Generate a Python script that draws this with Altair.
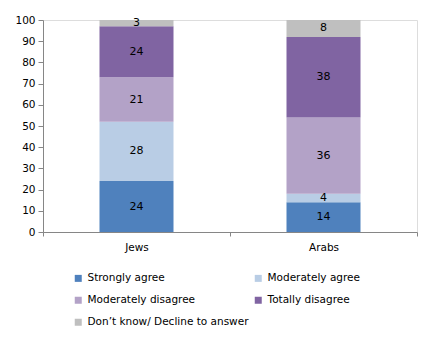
import altair as alt
import pandas as pd

groups = ["Jews", "Arabs"]
answers = ["Strongly agree", "Moderately agree", "Moderately disagree",
           "Totally disagree", "Don\u2019t know/ Decline to answer"]
jews = [24, 28, 21, 24, 3]
arabs = [14, 4, 36, 38, 8]
colors = ["#4F81BD", "#B9CDE5", "#B3A2C7", "#8064A2", "#BFBFBF"]
yticks = [0, 10, 20, 30, 40, 50, 60, 70, 80, 90, 100]

rows = []
for g, vals in zip(groups, [jews, arabs]):
    for i, (a, v) in enumerate(zip(answers, vals)):
        rows.append({"group": g, "answer": a, "value": v, "idx": i})
df = pd.DataFrame(rows)

FONT = "DejaVu Sans"

base = alt.Chart(df).transform_stack(
    stack="value", groupby=["group"], as_=["v0", "v1"],
    sort=[alt.SortField("idx", order="ascending")]
).transform_calculate(mid="(datum.v0 + datum.v1) / 2")

xaxis = alt.Axis(labelAngle=0, tickBand="extent", domainColor="#868686",
                 tickColor="#868686", tickSize=4, labelPadding=6,
                 labelFont=FONT, labelFontSize=10.5, labelColor="#000000")
yaxis = alt.Axis(values=yticks, grid=False, labelOverlap=False,
                 domainColor="#868686", tickColor="#868686", tickSize=5,
                 labelFont=FONT, labelFontSize=10.5, labelColor="#000000",
                 labelPadding=3)
xscale = alt.Scale(paddingInner=0, paddingOuter=0)
yscale = alt.Scale(domain=[0, 100], nice=False)

bars = base.mark_bar(size=74).encode(
    x=alt.X("group:N", sort=groups, title=None, scale=xscale, axis=xaxis),
    y=alt.Y("v0:Q", title=None, scale=yscale, axis=yaxis),
    y2="v1:Q",
    color=alt.Color("answer:N", sort=answers,
                    scale=alt.Scale(domain=answers, range=colors),
                    legend=alt.Legend(title=None, orient="none", legendX=30, legendY=253,
                                      columns=2, direction="horizontal",
                                      columnPadding=4, rowPadding=11,
                                      symbolType="square", symbolSize=49,
                                      symbolStrokeWidth=0, labelOffset=4,
                                      labelFont=FONT, labelFontSize=10.5,
                                      labelColor="#000000", labelLimit=300)),
    order=alt.Order("idx:Q"),
)

labels = base.mark_text(font=FONT, fontSize=11, color="#000000").encode(
    x=alt.X("group:N", sort=groups, title=None, scale=xscale, axis=xaxis),
    y=alt.Y("mid:Q", title=None, scale=yscale, axis=yaxis),
    text=alt.Text("value:Q"),
)

chart = alt.layer(bars, labels).properties(
    width=374, height=212,
    autosize=alt.AutoSizeParams(type="none"),
    padding={"left": 43, "top": 20, "right": 10, "bottom": 105},
).configure_view(stroke=None).configure(background="white")

chart.save("out.html", embed_options={"renderer": "svg", "actions": False})
